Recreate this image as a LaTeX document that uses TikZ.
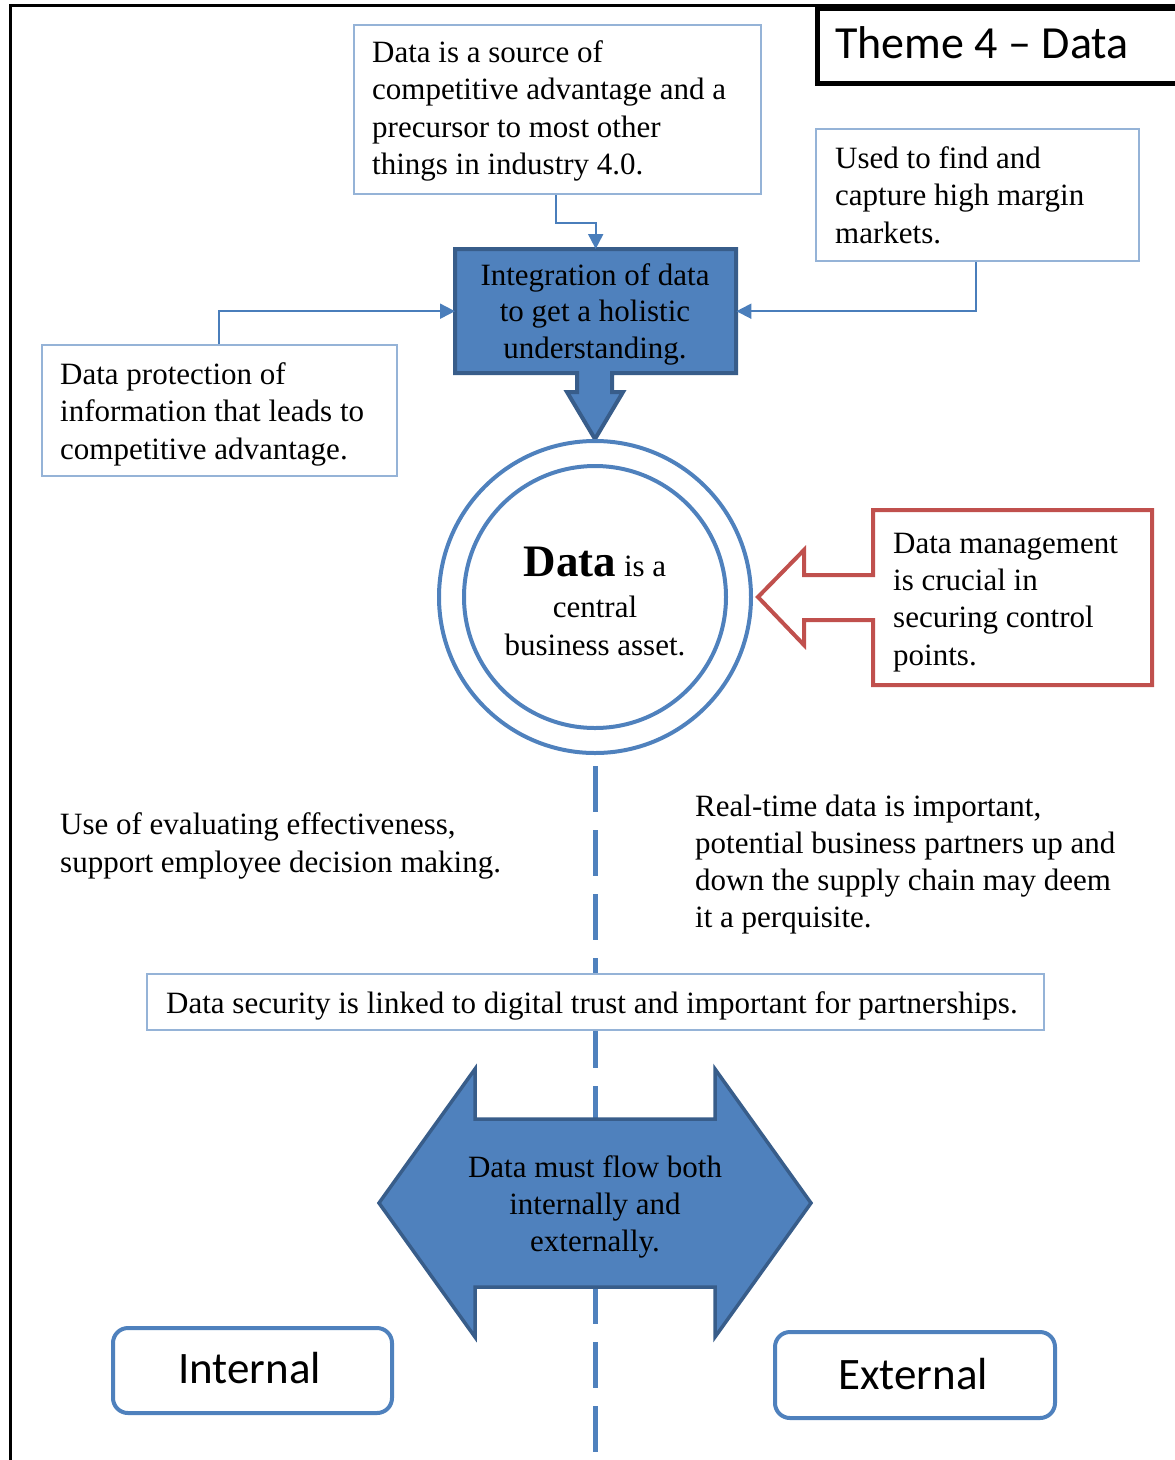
\documentclass[tikz,border=0pt]{standalone}
\usepackage{fontspec}
\setmainfont{Liberation Serif}
\newfontfamily\labelfont[Ligatures=TeX]{Carlito}
\usetikzlibrary{arrows.meta}
\definecolor{accent}{HTML}{4F81BD}
\definecolor{accentdark}{HTML}{385D8A}
\definecolor{linkblue}{HTML}{4A7EBB}
\definecolor{notelight}{HTML}{95B3D7}
\definecolor{callred}{HTML}{C0504D}
% multi-line text nodes are anchored at the baseline of their last line
\tikzset{
  txt/.style={inner sep=0pt, anchor=base west, align=left, font=\fontsize{31}{37.5}\selectfont},
  ctxt/.style={inner sep=0pt, anchor=base, align=center, font=\fontsize{31}{37}\selectfont},
  notebox/.style={draw=notelight, line width=2pt, fill=white, rectangle, inner sep=0pt, anchor=north west},
  area/.style={rectangle, inner sep=0pt, anchor=north west},
  link/.style={draw=linkblue, line width=2pt, -{Triangle[length=15pt,width=15pt]}},
  tagbox/.style={draw=accent, line width=4pt, rounded corners=15pt, rectangle, inner sep=0pt, anchor=north west, fill=white},
  tagtxt/.style={inner sep=0pt, anchor=base west, font=\labelfont\fontsize{45}{45}\selectfont},
  shapefill/.style={fill=accent, draw=accentdark, line join=round},
}
\begin{document}
\begin{tikzpicture}[x=1pt,y=-1pt]
\useasboundingbox (0,0) rectangle (1175,1460);
\clip (0,0) rectangle (1175,1460);

% page frame
\draw[line width=3pt] (10,1470) -- (10,5.5) -- (1185,5.5);

% title
\node[area, draw, line width=4.5pt, minimum width=400pt, minimum height=75pt] (title) at (815,6) {};
\node[inner sep=0pt, anchor=base west, font=\labelfont\fontsize{46}{46}\selectfont] (titletext) at (835,58) {Theme 4 \textendash{} Data};

% note boxes
\node[notebox, minimum width=407pt, minimum height=169pt] (src) at (353,24) {};
\node[txt] (srctext) at (372,174.5) {Data is a source of\\competitive advantage and a\\precursor to most other\\things in industry 4.0.};

\node[notebox, minimum width=323pt, minimum height=132pt] (mkt) at (815,128) {};
\node[txt] (mkttext) at (835,243) {Used to find and\\capture high margin\\markets.};

\node[notebox, minimum width=355pt, minimum height=131pt] (prot) at (41,344) {};
\node[txt] (prottext) at (60,459) {Data protection of\\information that leads to\\competitive advantage.};

% integration callout with downward arrow
\path[shapefill, line width=4pt, line join=miter]
  (455,249) -- (736,249) -- (736,373) -- (612,373) -- (612,392) -- (623,392)
  -- (595,439) -- (567,392) -- (577,392) -- (577,373) -- (455,373) -- cycle;
\node[area, minimum width=281pt, minimum height=124pt] (integ) at (455,249) {};
\node[ctxt, font=\fontsize{31}{36.5}\selectfont] (integtext) at (595,358) {Integration of data\\to get a holistic\\understanding.};

% connectors into the integration box
\draw[link] ([xshift=203pt]src.south west) -- ++(0,28) -| (integ.north);
\draw[link] ([xshift=161pt]mkt.south west) |- (integ.east);
\draw[link] ([xshift=178pt]prot.north west) |- (integ.west);

% central asset
\node[circle, draw=accent, line width=4pt, minimum size=312pt, inner sep=0pt] (outer) at (595,597) {};
\node[circle, draw=accent, line width=4pt, minimum size=262pt, inner sep=0pt] (inner) at (595,597) {};
\node[ctxt, font=\fontsize{31}{38}\selectfont] (assettext) at (595,655) {{\fontsize{45}{45}\selectfont\bfseries Data} is a\\[3pt]central\\business asset.};

% data management callout pointing left
\draw[callred, line width=4pt, line join=miter]
  (873,510) -- (1152,510) -- (1152,685) -- (873,685) -- (873,620) -- (804,620)
  -- (804,645) -- (758,597) -- (804,550) -- (804,575) -- (873,575) -- cycle;
\node[area, minimum width=279pt, minimum height=175pt] (mgmt) at (873,510) {};
\node[txt, font=\fontsize{31}{37.3}\selectfont] (mgmttext) at (893,665) {Data management\\is crucial in\\securing control\\points.};

% free texts
\node[txt, font=\fontsize{31}{38}\selectfont] (evaltext) at (60,872) {Use of evaluating effectiveness,\\support employee decision making.};
\node[txt, font=\fontsize{31}{37}\selectfont] (rttext) at (695,927) {Real-time data is important,\\potential business partners up and\\down the supply chain may deem\\it a perquisite.};

% dividing axis
\coordinate (axtop) at (595,766);
\coordinate (axbot) at (595,1452);
\draw[accent, line width=5pt, dash pattern=on 46pt off 18pt] (axtop) -- (axbot);

% security note
\node[notebox, minimum width=897pt, minimum height=56pt] (sec) at (146,973) {};
\node[txt] (sectext) at (166,1013) {Data security is linked to digital trust and important for partnerships.};

% two-way flow arrow
\path[shapefill, line width=3.5pt, line join=miter]
  (379,1203) -- (475,1069) -- (475,1119) -- (715,1119) -- (715,1069) -- (811,1203)
  -- (715,1337) -- (715,1287) -- (475,1287) -- (475,1337) -- cycle;
\node[ctxt] (flowtext) at (595,1251) {Data must flow both\\internally and\\externally.};

% sides
\node[tagbox, minimum width=279pt, minimum height=85pt] (internal) at (111,1326) {};
\node[tagtxt] (internaltext) at (178,1383) {Internal};
\node[tagbox, minimum width=280pt, minimum height=86pt] (external) at (773,1330) {};
\node[tagtxt] (externaltext) at (838,1389) {External};
\end{tikzpicture}
\end{document}
